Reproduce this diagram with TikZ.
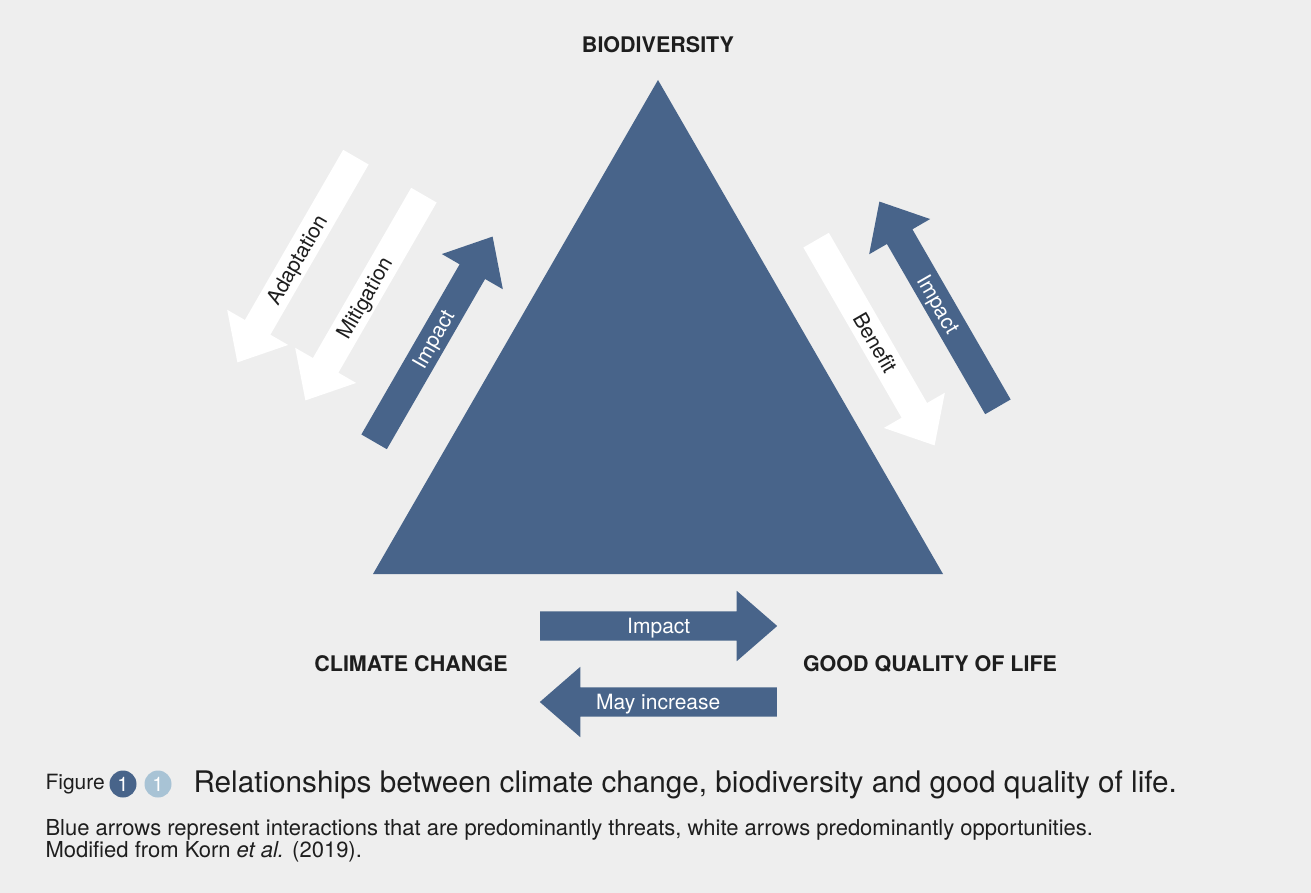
\documentclass[tikz,border=0pt]{standalone}
\usepackage{fontspec}
\setmainfont{TeX Gyre Heros}
\usetikzlibrary{shapes.arrows,calc}

\definecolor{triblue}{RGB}{72,100,138}
\definecolor{paleblue}{RGB}{168,195,213}
\definecolor{bggray}{RGB}{238,238,238}
\definecolor{inkgray}{RGB}{30,30,30}

\tikzset{
  fatarrow/.style={single arrow, draw=none, anchor=tail, minimum height=237pt,
    single arrow head extend=20.5pt, single arrow tip angle=82,
    inner xsep=0pt, inner ysep=0pt, text height=21pt, text depth=8pt},
  bluearrow/.style={fatarrow, fill=triblue},
  whitearrow/.style={fatarrow, fill=white},
  arrowtext/.style={inner sep=0pt, text height=15pt, text depth=0pt,
    font=\fontsize{21}{25}\selectfont},
  corner/.style={anchor=base, text=inkgray, font=\fontsize{21.5}{25}\selectfont\bfseries},
  numdot/.style={circle, inner sep=0pt, minimum size=27pt, text=white,
    font=\fontsize{20}{20}\selectfont},
  captext/.style={anchor=base west, text=inkgray, font=\fontsize{22}{25}\selectfont}
}

\begin{document}
\begin{tikzpicture}[x=1pt, y=-1pt]
\useasboundingbox (0,0) rectangle (1311,893);
\fill [bggray] (0,0) rectangle (1311,893);

% triangle
\fill [triblue] (658,80) -- (943,574) -- (373,574) -- cycle;

\node [corner] (bio) at (658,53) {BIODIVERSITY};
\node [corner] (climate) at (411,671) {CLIMATE CHANGE};
\node [corner] (life) at (930,671) {GOOD QUALITY OF LIFE};

% left side
\node [whitearrow, rotate=240] (adapt) at (356,157) {};
\node [whitearrow, rotate=240] (mitig) at (424,195) {};
\node [bluearrow, rotate=60] (impactcb) at (374,442) {};
\node [arrowtext, rotate=60, text=inkgray] at ($(adapt.tail)!0.5!(adapt.tip)$) {Adaptation};
\node [arrowtext, rotate=60, text=inkgray] at ($(mitig.tail)!0.5!(mitig.tip)$) {Mitigation};
\node [arrowtext, rotate=60, text=white] at ($(impactcb.tail)!0.5!(impactcb.tip)$) {Impact};

% right side
\node [whitearrow, rotate=-60] (benefit) at (816,240) {};
\node [bluearrow, rotate=120] (impactlb) at (998,407) {};
\node [arrowtext, rotate=-60, text=inkgray] at ($(benefit.tail)!0.5!(benefit.tip)$) {Benefit};
\node [arrowtext, rotate=-60, text=white] at ($(impactlb.tail)!0.5!(impactlb.tip)$) {Impact};

% bottom
\node [bluearrow] (impactcl) at (540,626) {};
\node [bluearrow, rotate=180] (increase) at (777,702) {};
\node [arrowtext, text=white] at ($(impactcl.tail)!0.5!(impactcl.tip)$) {Impact};
\node [arrowtext, text=white] at ($(increase.tail)!0.5!(increase.tip)$) {May increase};

% caption
\node [captext, font=\fontsize{21}{25}\selectfont] (figword) at (42,789) {Figure};
\node [numdot, fill=triblue] (dotA) at (123,784) {1};
\node [numdot, fill=paleblue] (dotB) at (158,784) {1};
\node [captext, font=\fontsize{29.7}{32}\selectfont] (title) at (190,792) {Relationships between climate change, biodiversity and good quality of life.};
\node [captext] (note) at (42,835) {Blue arrows represent interactions that are predominantly threats, white arrows predominantly opportunities.};
\node [captext] (source) at (42,857) {Modified from Korn \textit{et al.} (2019).};
\end{tikzpicture}
\end{document}
